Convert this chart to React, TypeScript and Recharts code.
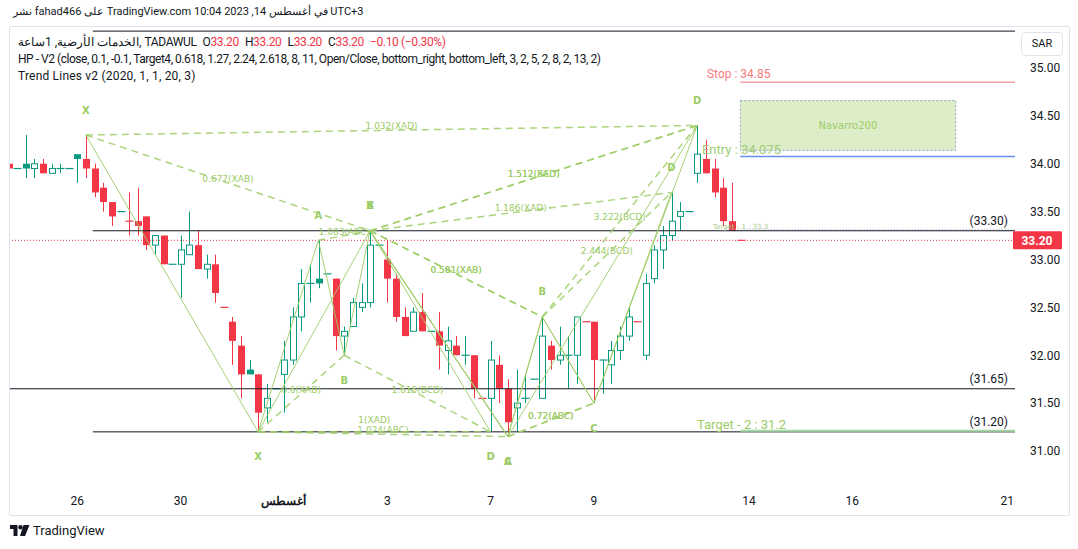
import React from "react";
import {
  ComposedChart,
  Bar,
  XAxis,
  YAxis,
  ReferenceLine,
  ReferenceDot,
  ReferenceArea,
} from "recharts";

// hourly bars, TADAWUL, 26 Jul -> 14 Aug 2023
const opens = [
  34.0, 33.95, 34.0, 33.95, 34.0, 33.9, 33.95, 33.95, 34.1, 34.05,
  33.95, 33.75, 33.6, 33.5, 33.4, 33.4, 33.45, 33.15, 33.25, 32.95,
  32.95, 33.05, 33.15, 32.9, 32.95, 32.5, 32.35, 32.1, 31.85, 31.8,
  31.45, 31.65, 31.8, 31.95, 32.4, 32.75, 32.8, 32.85, 32.8, 32.2,
  32.3, 32.5, 32.55, 33.15, 33.0, 32.8, 32.4, 32.25, 32.45, 32.25,
  32.25, 32.05, 32.1, 32.0, 32.0, 31.55, 31.55, 31.9, 31.65, 31.45,
  31.55, 31.75, 31.55, 32.1, 31.95, 32.0, 32.0, 32.35, 32.35, 31.95,
  31.9, 32.05, 32.2, 32.35, 32.0, 32.8, 33.1, 33.25, 33.45, 33.5,
  33.9, 34.05, 33.95, 33.75, 33.4, 33.2,
];
const highs = [
  34.0, 33.95, 34.3, 34.05, 34.05, 34.0, 34.0, 33.95, 34.1, 34.3,
  34.0, 33.8, 33.6, 33.5, 33.7, 33.75, 33.45, 33.25, 33.25, 32.95,
  33.25, 33.5, 33.3, 33.05, 33.05, 32.5, 32.4, 32.2, 31.95, 31.8,
  31.7, 31.65, 32.15, 32.5, 32.9, 32.95, 33.2, 32.85, 32.8, 32.3,
  32.6, 32.75, 33.3, 33.15, 33.2, 32.85, 32.5, 32.5, 32.65, 32.25,
  32.45, 32.3, 32.2, 32.2, 32.0, 31.55, 32.15, 32.0, 31.75, 31.85,
  31.8, 31.75, 32.4, 32.15, 32.3, 32.2, 32.4, 32.35, 32.35, 31.95,
  32.15, 32.3, 32.5, 32.35, 32.85, 33.15, 33.35, 33.7, 33.6, 33.5,
  34.4, 34.25, 34.05, 33.85, 33.8, 33.2,
];
const lows = [
  33.95, 33.95, 33.85, 33.85, 33.9, 33.9, 33.9, 33.95, 33.8, 33.85,
  33.65, 33.5, 33.35, 33.5, 33.25, 33.25, 33.1, 33.05, 32.95, 32.95,
  32.6, 33.05, 32.9, 32.8, 32.55, 32.5, 31.9, 31.55, 31.8, 31.2,
  31.3, 31.65, 31.4, 31.9, 32.25, 32.55, 32.7, 32.85, 32.05, 32.0,
  32.3, 32.45, 32.5, 33.15, 32.55, 32.35, 32.2, 32.25, 32.25, 32.25,
  31.85, 31.8, 32.0, 31.9, 31.55, 31.55, 31.2, 31.5, 31.15, 31.2,
  31.5, 31.75, 31.55, 31.85, 31.9, 31.65, 31.7, 32.35, 31.5, 31.6,
  31.7, 31.95, 32.15, 32.35, 31.95, 32.75, 32.9, 33.2, 33.3, 33.5,
  33.8, 33.9, 33.65, 33.35, 33.3, 33.2,
];
const closes = [
  33.95, 33.95, 33.95, 34.0, 33.9, 33.95, 33.95, 33.95, 34.05, 33.95,
  33.7, 33.6, 33.45, 33.5, 33.4, 33.35, 33.15, 33.25, 32.95, 32.95,
  33.1, 33.15, 32.9, 32.95, 32.65, 32.5, 32.15, 31.8, 31.8, 31.4,
  31.55, 31.65, 31.95, 32.4, 32.75, 32.75, 32.75, 32.85, 32.2, 32.25,
  32.55, 32.55, 33.15, 33.15, 32.8, 32.4, 32.2, 32.45, 32.25, 32.25,
  32.1, 32.15, 32.0, 32.0, 31.65, 31.55, 31.95, 31.65, 31.3, 31.5,
  31.55, 31.75, 32.2, 31.95, 32.0, 32.0, 32.4, 32.35, 31.95, 31.95,
  32.05, 32.2, 32.4, 32.35, 32.75, 33.1, 33.25, 33.4, 33.5, 33.5,
  34.1, 33.9, 33.7, 33.4, 33.3, 33.2,
];

const dayTicks = [8, 20, 32, 44, 56, 68, 86, 98, 116];
const dayLabels = ["26", "30", "أغسطس", "3", "7", "9", "14", "16", "21"];
const priceTicks = [31, 31.5, 32, 32.5, 33, 33.5, 34, 34.5, 35];

// harmonic patterns (X, A, B, C, D) as [bar, price]
const patternPoints: [number, number][][] = [
  [[9, 34.3], [29, 31.2], [42, 33.3], [58, 31.15], [80, 34.4]],
  [[29, 31.2], [36, 33.2], [39, 32.0], [42, 33.3], [56, 31.2]],
  [[42, 33.3], [58, 31.15], [62, 32.4], [68, 31.5], [77, 33.7]],
  [[42, 33.3], [58, 31.15], [62, 32.4], [68, 31.5], [80, 34.4]],
];
// XAB, ABC, BCD, XAD
const patternRatios = [
  ["0.677(XAB)", "1.024(ABC)", "1.512(BCD)", "1.032(XAD)"],
  ["0.6(XAB)", "1.083(ABC)", "1.615(BCD)", "1(XAD)"],
  ["0.581(XAB)", "0.72(ABC)", "2.444(BCD)", "1.186(XAD)"],
  ["0.581(XAB)", "0.72(ABC)", "3.222(BCD)", "1.512(XAD)"],
];
// vertex letters: bar, price, letter, side (-1 above, 1 below)
const vertexLabels: [number, number, string, number][] = [
  [9, 34.3, "X", -1],
  [36, 33.2, "A", -1],
  [42, 33.3, "B", -1],
  [42, 33.3, "X", -1],
  [80, 34.4, "D", -1],
  [77, 33.7, "D", -1],
  [62, 32.4, "B", -1],
  [29, 31.2, "X", 1],
  [39, 32.0, "B", 1],
  [56, 31.2, "D", 1],
  [58, 31.15, "A", 1],
  [58, 31.15, "C", 1],
  [68, 31.5, "C", 1],
];

const trendLevels = [33.3, 31.65, 31.2];
const trendLabels = ["(33.30)", "(31.65)", "(31.20)"];
const trendStarts = [9.8, 0.186, 9.8];
const topLevel = 35.385;

const lastPrice = 33.2;
const stopPrice = 34.85;
const entryPrice = 34.075;
const target1 = 33.3;
const target2 = 31.2;
const boxTop = 34.66;
const boxBottom = 34.14;

const XMIN = 0.186;
const XMAX = 116.9;
const YMIN = 30.624;
const YMAX = 35.428;

const UP = "#089981";
const DOWN = "#f23645";
const FIB = "#9ccc65";
const INK = "#131722";
const FONT = "Roboto, 'Liberation Sans', sans-serif";
const SMALL = "'DejaVu Sans', Verdana, sans-serif";

const candles = opens.map((o, i) => ({
  i,
  o,
  h: highs[i],
  l: lows[i],
  c: closes[i],
  range: [lows[i], highs[i]],
  color: i === 0 || closes[i] < closes[i - 1] ? DOWN : UP,
  hollow: closes[i] > o,
}));

function Candle(props: any) {
  const { x, y, width, height, payload } = props;
  if (x == null || y == null || !payload) return null;
  const { o, h, l, c, color, hollow } = payload;
  const top0 = Math.min(y, y + (height || 0));
  const hgt = Math.abs(height || 0);
  const k = h > l ? hgt / (h - l) : 0;
  const py = (v: number) => top0 + (h - v) * k;
  const cx = Math.round(x + width / 2) + 0.5;
  const bTop = py(Math.max(o, c));
  const bBot = py(Math.min(o, c));
  if (o === c) {
    return (
      <g>
        {h > l && <line x1={cx} x2={cx} y1={py(h)} y2={py(l)} stroke={color} strokeWidth={1} />}
        <line x1={cx - 4} x2={cx + 4} y1={bTop} y2={bTop} stroke={color} strokeWidth={1.2} />
      </g>
    );
  }
  if (hollow) {
    return (
      <g>
        <line x1={cx} x2={cx} y1={py(h)} y2={bTop} stroke={color} strokeWidth={1} />
        <line x1={cx} x2={cx} y1={bBot} y2={py(l)} stroke={color} strokeWidth={1} />
        <rect x={cx - 3} y={bTop} width={6} height={Math.max(bBot - bTop, 1)} fill="#fff" stroke={color} strokeWidth={1} />
      </g>
    );
  }
  return (
    <g>
      <line x1={cx} x2={cx} y1={py(h)} y2={py(l)} stroke={color} strokeWidth={1} />
      <rect x={cx - 3.5} y={bTop} width={7} height={Math.max(bBot - bTop, 1)} fill={color} />
    </g>
  );
}

function DayTick(props: any) {
  const { x, y, payload } = props;
  const idx = dayTicks.indexOf(payload.value);
  const label = dayLabels[idx] ?? "";
  return (
    <text x={x} y={y + 10} textAnchor="middle" fontSize={12} fill={INK} fontFamily={FONT}
      fontWeight={label === "أغسطس" ? 700 : 400}>
      {label}
    </text>
  );
}

type Note = {
  text: string;
  color: string;
  size: number;
  dx?: number;
  dy?: number;
  anchor?: "start" | "middle" | "end";
  weight?: number;
  family?: string;
  opacity?: number;
};
const noteShape = (n: Note) => (p: any) => (
  <text
    x={p.cx + (n.dx ?? 0)}
    y={p.cy + (n.dy ?? 0)}
    fill={n.color}
    fillOpacity={n.opacity ?? 1}
    fontSize={n.size}
    fontWeight={n.weight ?? 400}
    textAnchor={n.anchor ?? "middle"}
    dominantBaseline="central"
    fontFamily={n.family ?? FONT}
  >
    {n.text}
  </text>
);

function PriceBox(p: any) {
  return (
    <g>
      <rect x={p.cx - 2} y={p.cy - 9} width={49} height={18} fill={DOWN} rx={1} />
      <text x={p.cx + 22} y={p.cy + 1} fill="#fff" fontSize={12} fontWeight={700} textAnchor="middle"
        dominantBaseline="central" fontFamily={FONT}>
        {lastPrice.toFixed(2)}
      </text>
    </g>
  );
}

export default function App() {
  const solidSegs: { a: [number, number]; b: [number, number] }[] = [];
  const dashSegs: { a: [number, number]; b: [number, number]; label: string }[] = [];
  patternPoints.forEach((pts, k) => {
    for (let j = 0; j < 4; j++) solidSegs.push({ a: pts[j], b: pts[j + 1] });
    const r = patternRatios[k];
    dashSegs.push({ a: pts[0], b: pts[2], label: r[0] });
    dashSegs.push({ a: pts[1], b: pts[3], label: r[1] });
    dashSegs.push({ a: pts[2], b: pts[4], label: r[2] });
    dashSegs.push({ a: pts[0], b: pts[4], label: r[3] });
  });

  return (
    <div style={{ position: "absolute", left: 0, top: 0, width: 1078, height: 549, background: "#fff", fontFamily: FONT, color: INK }}>
      <div style={{ position: "absolute", left: 9, top: 26, width: 1059, height: 488, border: "1px solid #e0e3eb", borderRadius: 2 }} />
      <ComposedChart width={1078} height={549} data={candles} margin={{ top: 27, right: 8, bottom: 34, left: 10 }}>
        <XAxis dataKey="i" type="number" domain={[XMIN, XMAX]} allowDataOverflow ticks={dayTicks} interval={0}
          tickLine={false} axisLine={false} height={28} tick={<DayTick />} />
        <YAxis orientation="right" type="number" domain={[YMIN, YMAX]} allowDataOverflow ticks={priceTicks}
          interval={0} width={55} tickLine={false} axisLine={false} tickMargin={9}
          tick={{ fill: INK, fontSize: 12, fontFamily: FONT }} tickFormatter={(v: number) => v.toFixed(2)} />

        <ReferenceArea x1={85} x2={110} y1={boxBottom} y2={boxTop} fill="#dcedc8" fillOpacity={1}
          stroke="#8ea4bd" strokeDasharray="2 2" strokeWidth={1} />
        <ReferenceDot x={97.5} y={(boxTop + boxBottom) / 2} r={0}
          shape={noteShape({ text: "Navarro200", color: FIB, size: 10, family: SMALL })} />

        <ReferenceLine segment={[{ x: 9.8, y: topLevel }, { x: XMAX, y: topLevel }]} stroke={INK} strokeWidth={1} />
        {trendLevels.map((lv, k) => (
          <ReferenceLine key={"t" + k} segment={[{ x: trendStarts[k], y: lv }, { x: XMAX, y: lv }]} stroke={INK} strokeWidth={1} />
        ))}
        <ReferenceLine segment={[{ x: 84, y: target1 + 0.015 }, { x: XMAX, y: target1 + 0.015 }]} stroke="#b2b5be" strokeDasharray="1 2" />
        <ReferenceLine segment={[{ x: 85, y: target2 + 0.012 }, { x: XMAX, y: target2 + 0.012 }]} stroke="#a5d6a7" strokeWidth={2} />
        <ReferenceLine segment={[{ x: 85, y: stopPrice }, { x: XMAX, y: stopPrice }]} stroke="#f7a1a4" strokeWidth={1.5} />
        <ReferenceLine segment={[{ x: 85, y: entryPrice }, { x: XMAX, y: entryPrice }]} stroke="#6a8ef0" strokeWidth={1.5} />
        <ReferenceLine y={lastPrice} stroke={DOWN} strokeDasharray="1 2" strokeWidth={1} />

        {dashSegs.map((s, k) => (
          <ReferenceLine key={"d" + k} segment={[{ x: s.a[0], y: s.a[1] }, { x: s.b[0], y: s.b[1] }]}
            stroke={FIB} strokeOpacity={0.85} strokeWidth={1.5} strokeDasharray="7 5" />
        ))}
        {solidSegs.map((s, k) => (
          <ReferenceLine key={"s" + k} segment={[{ x: s.a[0], y: s.a[1] }, { x: s.b[0], y: s.b[1] }]}
            stroke={FIB} strokeOpacity={0.9} strokeWidth={1} />
        ))}

        <Bar dataKey="range" barSize={7} isAnimationActive={false} shape={(p: any) => <Candle {...p} />} />

        {dashSegs.map((s, k) => (
          <ReferenceDot key={"dl" + k} x={(s.a[0] + s.b[0]) / 2} y={(s.a[1] + s.b[1]) / 2} r={0}
            shape={noteShape({ text: s.label, color: FIB, size: 9, dy: s.label === "1(XAD)" ? -12 : -4, family: SMALL })} />
        ))}
        {vertexLabels.map(([bx, pr, t, side], k) => (
          <ReferenceDot key={"v" + k} x={bx} y={pr} r={0}
            shape={noteShape({ text: t, color: FIB, size: 10, dy: side * 25, weight: 700, family: SMALL })} />
        ))}

        <ReferenceDot x={81.13} y={stopPrice} r={0}
          shape={noteShape({ text: "Stop : 34.85", color: "#f77c80", size: 12, anchor: "start", dy: -8 })} />
        <ReferenceDot x={80.55} y={entryPrice} r={0}
          shape={noteShape({ text: "Entry : 34.075", color: "#a2cc78", size: 13, anchor: "start", dy: -7 })} />
        <ReferenceDot x={79.97} y={target2} r={0}
          shape={noteShape({ text: "Target - 2 : 31.2", color: "#9ccc65", size: 13, anchor: "start", dy: -7 })} />
        <ReferenceDot x={81.8} y={target1} r={0}
          shape={noteShape({ text: "Target - 1 : 33.3", color: "#a9c98f", size: 7, anchor: "start", dy: -4, family: SMALL })} />

        {trendLevels.map((lv, k) => (
          <ReferenceDot key={"tl" + k} x={XMAX} y={lv} r={0} ifOverflow="visible"
            shape={noteShape({ text: trendLabels[k], color: INK, size: 12, anchor: "end", dx: -7, dy: -10 })} />
        ))}
        <ReferenceDot x={XMAX} y={lastPrice} r={0} ifOverflow="visible" shape={(p: any) => <PriceBox {...p} />} />
      </ComposedChart>

      <div style={{ position: "absolute", left: 13, top: 5, fontSize: 11, whiteSpace: "nowrap" }}>
        نشر fahad466 على TradingView.com في أغسطس 14, 2023 10:04 UTC+3
      </div>
      <div style={{ position: "absolute", left: 18, top: 34, fontSize: 12, lineHeight: "17px", whiteSpace: "nowrap" }}>
        <div style={{ letterSpacing: -0.35 }}>
          <span>الخدمات الأرضية, 1ساعة, TADAWUL</span>
          <span style={{ marginLeft: 6 }}>O</span><span style={{ color: DOWN }}>33.20</span>
          <span style={{ marginLeft: 6 }}>H</span><span style={{ color: DOWN }}>33.20</span>
          <span style={{ marginLeft: 6 }}>L</span><span style={{ color: DOWN }}>33.20</span>
          <span style={{ marginLeft: 6 }}>C</span><span style={{ color: DOWN }}>33.20</span>
          <span style={{ marginLeft: 6, color: DOWN }}>−0.10 (−0.30%)</span>
        </div>
        <div style={{ letterSpacing: -0.47 }}>HP - V2 (close, 0.1, -0.1, Target4, 0.618, 1.27, 2.24, 2.618, 8, 11, Open/Close, bottom_right, bottom_left, 3, 2, 5, 2, 8, 2, 13, 2)</div>
        <div style={{ letterSpacing: 0.2 }}>Trend Lines v2 (2020, 1, 1, 20, 3)</div>
      </div>
      <div style={{ position: "absolute", left: 1021, top: 32, width: 40, height: 22, border: "1px solid #e0e3eb", borderRadius: 4,
        fontSize: 11, lineHeight: "22px", textAlign: "center" }}>
        SAR
      </div>

      <svg style={{ position: "absolute", left: 10, top: 525 }} width={20} height={12}>
        <path d="M0 0 H7.5 V11 H3.5 V4 H0 Z" fill={INK} />
        <circle cx={10.5} cy={2.2} r={2.2} fill={INK} />
        <path d="M13.5 0 H19.5 L15 11 H10 Z" fill={INK} />
      </svg>
      <div style={{ position: "absolute", left: 33, top: 523, fontSize: 13, color: INK }}>TradingView</div>
    </div>
  );
}
